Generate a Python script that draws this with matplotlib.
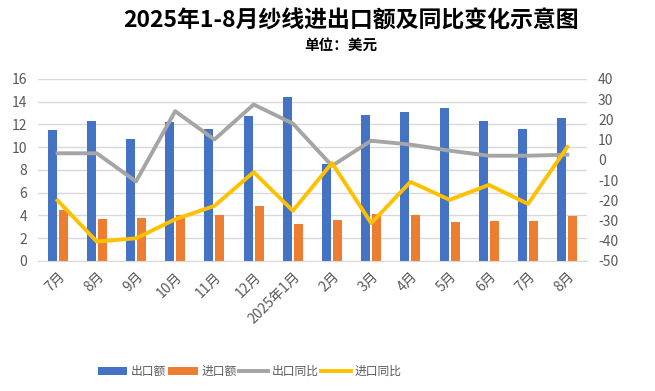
import numpy as np
import matplotlib
matplotlib.use('Agg')
import matplotlib.pyplot as plt

plt.rcParams['font.family'] = ['Noto Sans CJK SC', 'DejaVu Sans']
plt.rcParams['axes.unicode_minus'] = False

# 数据（单位：亿美元 / %）
months = ['7月', '8月', '9月', '10月', '11月', '12月', '2025年1月',
          '2月', '3月', '4月', '5月', '6月', '7月', '8月']
export_amt = [11.5, 12.3, 10.7, 12.2, 11.6, 12.7, 14.4, 8.5, 12.8, 13.1, 13.4, 12.3, 11.6, 12.6]
import_amt = [4.5, 3.7, 3.8, 4.0, 4.05, 4.85, 3.25, 3.6, 4.1, 4.05, 3.45, 3.5, 3.5, 3.95]
export_yoy = [3.2, 3.2, -10.7, 24.0, 10.0, 27.3, 17.9, -3.0, 9.4, 7.5, 4.5, 2.0, 2.0, 2.5]
import_yoy = [-20.1, -40.4, -38.8, -29.4, -22.8, -6.1, -25.2, -1.6, -31.3, -10.9, -19.8, -12.4, -21.8, 6.3]

BLUE = '#4472C4'
ORANGE = '#ED7D31'
GRAY = '#A5A5A5'
YELLOW = '#FFC000'
TXT = '#595959'

fig = plt.figure(figsize=(6.55, 3.91), dpi=100)
ax = fig.add_axes([0.058, 0.3325, 0.838, 0.466])
ax2 = ax.twinx()

x = np.arange(len(months))
w = 0.23
ax.bar(x - w / 2 - 0.025, export_amt, w, color=BLUE, label='出口额', zorder=2)
ax.bar(x + w / 2 + 0.025, import_amt, w, color=ORANGE, label='进口额', zorder=2)
ax2.plot(x, export_yoy, color=GRAY, lw=2.8, label='出口同比', solid_joinstyle='round')
ax2.plot(x, import_yoy, color=YELLOW, lw=2.8, label='进口同比', solid_joinstyle='round')

ax.set_xlim(-0.5, len(months) - 0.5)
ax.set_ylim(0, 16)
ax.set_yticks(range(0, 17, 2))
ax2.set_ylim(-50, 40)
ax2.set_yticks(range(-50, 41, 10))

ax.grid(axis='y', color='#D9D9D9', lw=1, zorder=0)
ax.set_axisbelow(True)
for a in (ax, ax2):
    for s in a.spines.values():
        s.set_visible(False)
    a.tick_params(length=0, colors=TXT, labelsize=10)
ax.spines['bottom'].set_visible(True)
ax.spines['bottom'].set_color('#D9D9D9')

ax.set_xticks(x)
ax.set_xticklabels(months, rotation=45, ha='right', rotation_mode='anchor')
ax.tick_params(axis='x', pad=6)
ax.tick_params(axis='y', pad=8)
ax2.tick_params(axis='y', pad=8)

fig.text(0.536, 0.947, '2025年1-8月纱线进出口额及同比变化示意图', ha='center', va='center',
         fontsize=16.5, fontweight='bold', color='black')
fig.text(0.52, 0.885, '单位：美元', ha='center', va='center',
         fontsize=10.5, fontweight='bold', color='black')

h1, l1 = ax.get_legend_handles_labels()
h2, l2 = ax2.get_legend_handles_labels()
fig.legend(h1 + h2, l1 + l2, loc='center', bbox_to_anchor=(0.381, 0.05), ncol=4,
           frameon=False, fontsize=8.5, labelcolor=TXT, handlelength=2.5,
           handletextpad=0.3, columnspacing=0.2)

plt.savefig('out.png', dpi=100)
